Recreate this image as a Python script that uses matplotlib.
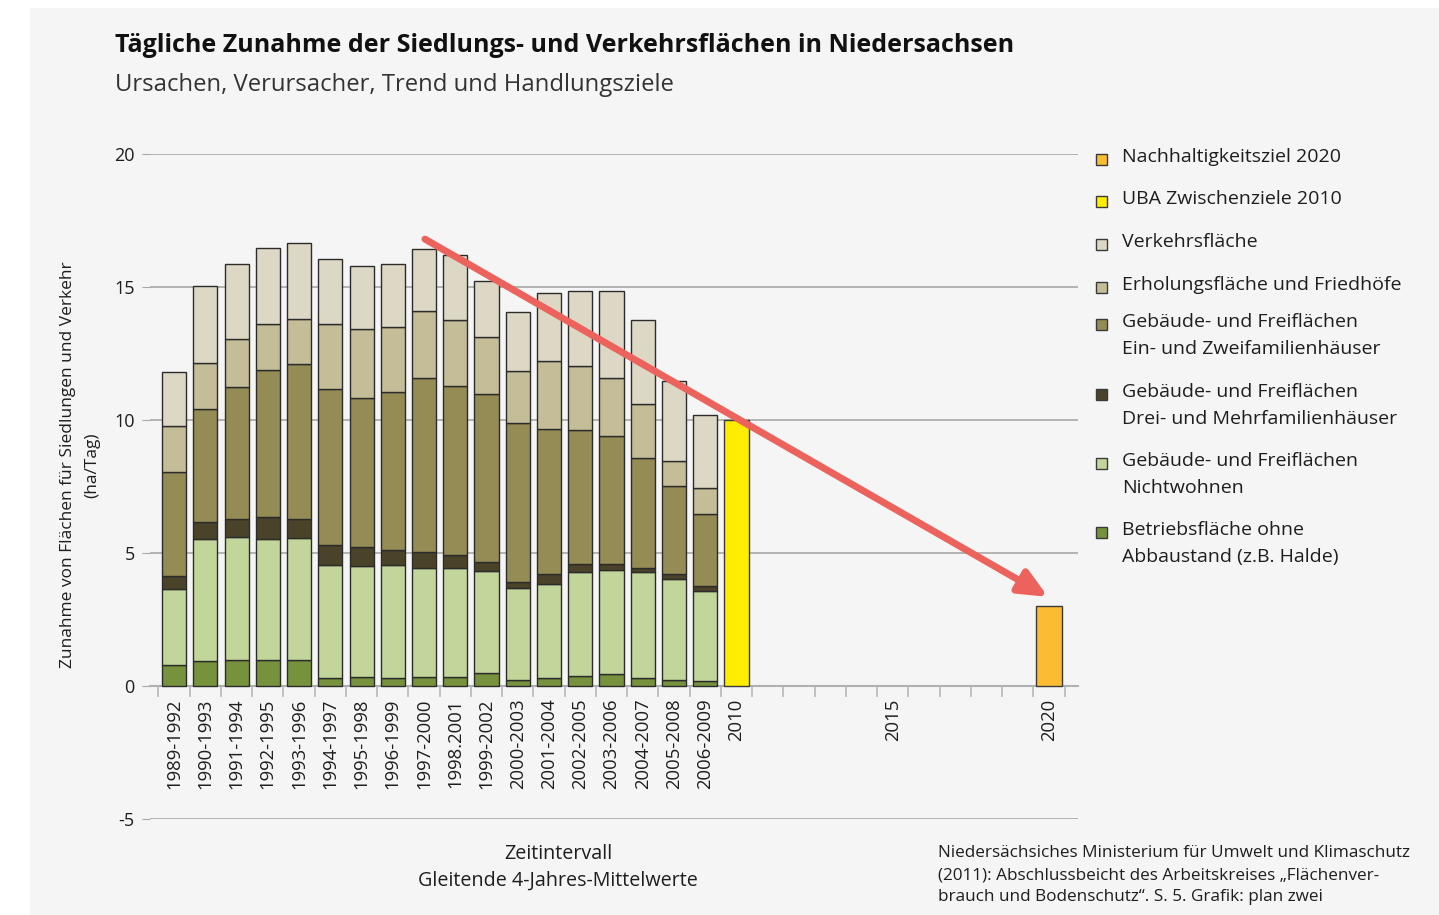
import numpy as np
import matplotlib
matplotlib.use("Agg")
import matplotlib.pyplot as plt
from matplotlib.patches import Rectangle

plt.rcParams["font.family"] = ["Open Sans", "DejaVu Sans"]

# Zeitintervalle (gleitende 4-Jahres-Mittelwerte)
intervals = ["1989-1992", "1990-1993", "1991-1994", "1992-1995", "1993-1996",
             "1994-1997", "1995-1998", "1996-1999", "1997-2000", "1998.2001",
             "1999-2002", "2000-2003", "2001-2004", "2002-2005", "2003-2006",
             "2004-2007", "2005-2008", "2006-2009"]

# ha/Tag je Kategorie (von unten nach oben)
betrieb = [0.78, 0.93, 0.97, 0.96, 0.96, 0.30, 0.34, 0.30, 0.32, 0.34,
           0.49, 0.21, 0.30, 0.38, 0.45, 0.30, 0.21, 0.18]
nichtwohnen = [2.88, 4.58, 4.62, 4.58, 4.59, 4.25, 4.16, 4.25, 4.13, 4.11,
               3.85, 3.47, 3.55, 3.92, 3.91, 4.00, 3.82, 3.40]
mehrfam = [0.46, 0.66, 0.68, 0.80, 0.73, 0.76, 0.73, 0.58, 0.60, 0.46,
           0.32, 0.23, 0.37, 0.27, 0.21, 0.15, 0.17, 0.18]
einfam = [3.93, 4.26, 4.96, 5.55, 5.81, 5.87, 5.61, 5.94, 6.53, 6.36,
          6.30, 5.98, 5.45, 5.05, 4.83, 4.13, 3.32, 2.71]
erholung = [1.71, 1.71, 1.83, 1.71, 1.72, 2.43, 2.58, 2.44, 2.52, 2.50,
            2.16, 1.94, 2.53, 2.42, 2.18, 2.03, 0.95, 0.97]
verkehr = [2.04, 2.89, 2.82, 2.88, 2.84, 2.43, 2.36, 2.34, 2.34, 2.42,
           2.09, 2.23, 2.59, 2.80, 3.26, 3.16, 3.00, 2.76]

uba_2010 = 10
ziel_2020 = 3

# Achsenbeschriftung: 18 Intervalle, dann 2010 ... 2020
xlabels = intervals + ["2010", "", "", "", "", "2015", "", "", "", "", "2020"]
pos_2010 = xlabels.index("2010")
pos_2020 = xlabels.index("2020")

# Trendpfeil (Start/Ende in Datenkoordinaten)
trend_start = (8.03, 16.8)
trend_end = (27.97, 3.35)

layers = [
    (betrieb, "#76923C"),
    (nichtwohnen, "#C2D69B"),
    (mehrfam, "#4A4229"),
    (einfam, "#958B55"),
    (erholung, "#C4BD98"),
    (verkehr, "#DDD8C5"),
]

legend_items = [
    ("#FBBC34", ["Nachhaltigkeitsziel 2020"]),
    ("#FFED00", ["UBA Zwischenziele 2010"]),
    ("#DDD8C5", ["Verkehrsfläche"]),
    ("#C4BD98", ["Erholungsfläche und Friedhöfe"]),
    ("#958B55", ["Gebäude- und Freiflächen", "Ein- und Zweifamilienhäuser"]),
    ("#4A4229", ["Gebäude- und Freiflächen", "Drei- und Mehrfamilienhäuser"]),
    ("#C2D69B", ["Gebäude- und Freiflächen", "Nichtwohnen"]),
    ("#76923C", ["Betriebsfläche ohne", "Abbaustand (z.B. Halde)"]),
]

W, H = 1439, 915
BG = "#F5F5F5"
TXT = "#1e1e1e"

fig = plt.figure(figsize=(W / 100, H / 100), dpi=100)
fig.patch.set_facecolor("white")
fig.patches.append(Rectangle((30 / W, 0), 1 - 30 / W, 1 - 8 / H,
                             transform=fig.transFigure, facecolor=BG,
                             edgecolor="none", zorder=-10))


def fx(px):
    return px / W


def fy(py):
    return 1 - py / H


ax = fig.add_axes([fx(150), fy(819), fx(1078) - fx(150), fy(154) - fy(819)])
ax.set_facecolor("none")

x = np.arange(len(intervals))
bottom = np.zeros(len(intervals))
for vals, col in layers:
    ax.bar(x, vals, width=0.77, bottom=bottom, color=col,
           edgecolor="#2b2b2b", linewidth=1.0, zorder=3)
    bottom += np.array(vals)

ax.bar(pos_2010, uba_2010, width=0.77, color="#FFED00",
       edgecolor="#3a3a3a", linewidth=1.0, zorder=3)
ax.bar(pos_2020, ziel_2020, width=0.85, color="#FBBC34",
       edgecolor="#3a3a3a", linewidth=1.0, zorder=3)

ax.annotate("", xy=trend_end, xytext=trend_start,
            arrowprops=dict(arrowstyle="-|>,head_length=1.0,head_width=0.45",
                            color="#EC625C", lw=5, mutation_scale=17,
                            shrinkA=0, shrinkB=0),
            zorder=5)

ax.set_xlim(-0.77, 28.93)
ax.set_ylim(-5, 20)
ax.set_yticks([-5, 0, 5, 10, 15, 20])
ax.set_yticklabels(["-5", "0", "5", "10", "15", "20"])
ax.grid(axis="y", color="#a8a8a8", linewidth=1.2, zorder=0)
ax.tick_params(axis="y", length=6, color="#a8a8a8", labelsize=13,
               labelcolor=TXT, pad=5)

for s in ["top", "right", "left"]:
    ax.spines[s].set_visible(False)
ax.spines["bottom"].set_position(("data", 0))
ax.spines["bottom"].set_color("#b0b0b0")
ax.spines["bottom"].set_linewidth(1.5)

ax.set_xticks(np.arange(len(xlabels)))
ax.set_xticklabels(xlabels, rotation=90, fontsize=13.3, color=TXT)
ax.set_xticks(np.arange(len(xlabels) + 1) - 0.5, minor=True)
ax.tick_params(axis="x", which="major", length=0, pad=9)
ax.tick_params(axis="x", which="minor", length=8, width=1.2,
               color="#b8b8b8", direction="out")

# Titel
fig.text(fx(115), fy(46), "Tägliche Zunahme der Siedlungs- und Verkehrsflächen in Niedersachsen",
         fontsize=18, fontweight="bold", color="#111111", va="center", ha="left")
fig.text(fx(115), fy(85), "Ursachen, Verursacher, Trend und Handlungsziele",
         fontsize=17.2, color="#333333", va="center", ha="left")

# y-Achsentitel
fig.text(fx(68), fy(465), "Zunahme von Flächen für Siedlungen und Verkehr",
         rotation=90, fontsize=12.5, color=TXT, ha="center", va="center")
fig.text(fx(92), fy(465), "(ha/Tag)",
         rotation=90, fontsize=12.5, color=TXT, ha="center", va="center")

# x-Achsentitel
fig.text(fx(558), fy(854), "Zeitintervall", fontsize=14.2, color=TXT,
         ha="center", va="center")
fig.text(fx(558), fy(881), "Gleitende 4-Jahres-Mittelwerte", fontsize=14.2,
         color=TXT, ha="center", va="center")

# Quelle
source = ["Niedersächsiches Ministerium für Umwelt und Klimaschutz",
          "(2011): Abschlussbeicht des Arbeitskreises „Flächenver-",
          "brauch und Bodenschutz“. S. 5. Grafik: plan zwei"]
for i, line in enumerate(source):
    fig.text(fx(938), fy(853 + 22 * i), line, fontsize=12.3, color=TXT,
             ha="left", va="center")

# Legende
leg_y = [157, 199, 242, 285, 322, 392, 461, 530]
for (col, lines), y0 in zip(legend_items, leg_y):
    fig.patches.append(Rectangle((fx(1096), fy(y0 + 8)), 11 / W, 11 / H,
                                 transform=fig.transFigure, facecolor=col,
                                 edgecolor="#3a3a3a", linewidth=1.0))
    for j, line in enumerate(lines):
        fig.text(fx(1122), fy(y0 + 27 * j), line, fontsize=14, color=TXT,
                 ha="left", va="center")

fig.savefig("out.png", dpi=100, facecolor=fig.get_facecolor())
